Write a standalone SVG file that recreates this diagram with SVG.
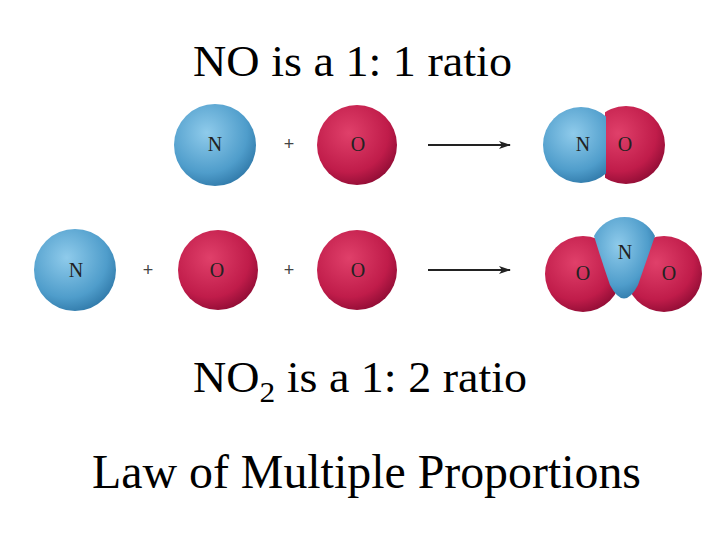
<svg xmlns="http://www.w3.org/2000/svg" width="720" height="540" viewBox="0 0 720 540">
<defs>
<radialGradient id="b" cx="0.4" cy="0.35" r="0.7"><stop offset="0" stop-color="#8fcbeb"/><stop offset="0.7" stop-color="#4f9dcb"/><stop offset="1" stop-color="#2f78a8"/></radialGradient>
<radialGradient id="r" cx="0.4" cy="0.35" r="0.7"><stop offset="0" stop-color="#e0406a"/><stop offset="0.7" stop-color="#c01c4a"/><stop offset="1" stop-color="#8e0c34"/></radialGradient>
<marker id="a" markerWidth="12" markerHeight="8" refX="11" refY="4" orient="auto" markerUnits="userSpaceOnUse"><path d="M0,0 L12,4 L0,8 L3,4 Z" fill="#222"/></marker>
<clipPath id="cL"><rect x="530" y="90" width="76" height="120"/></clipPath>
<clipPath id="cR"><rect x="605" y="90" width="80" height="120"/></clipPath>
</defs>
<style>
.t{font-family:"Liberation Serif",serif;fill:#000}
.l{font-family:"Liberation Serif",serif;font-size:20px;fill:#222;text-anchor:middle}
.p{font-family:"Liberation Sans",sans-serif;font-size:18px;fill:#444;text-anchor:middle}
.ar{stroke:#222;stroke-width:2;fill:none}
</style>
<rect width="720" height="540" fill="#fff"/>
<text class="t" x="193" y="76" font-size="44" textLength="319" lengthAdjust="spacingAndGlyphs">NO is a 1: 1 ratio</text>
<g id="row1">
<circle cx="215" cy="145" r="41" fill="url(#b)"/><text class="l" x="215" y="151">N</text>
<text class="p" x="289" y="150">+</text>
<circle cx="357" cy="145" r="40" fill="url(#r)"/><text class="l" x="358" y="151">O</text>
<line class="ar" x1="428" y1="145" x2="510" y2="145" marker-end="url(#a)"/>
<circle cx="626" cy="145" r="39" fill="url(#r)" clip-path="url(#cR)"/>
<circle cx="581" cy="145" r="38" fill="url(#b)" clip-path="url(#cL)"/>
<text class="l" x="583" y="151">N</text><text class="l" x="625" y="151">O</text>
</g>
<g id="row2">
<circle cx="75" cy="270" r="41" fill="url(#b)"/><text class="l" x="76" y="277">N</text>
<text class="p" x="148" y="276">+</text>
<circle cx="218" cy="270" r="40" fill="url(#r)"/><text class="l" x="217" y="277">O</text>
<text class="p" x="289" y="276">+</text>
<circle cx="357" cy="270" r="40" fill="url(#r)"/><text class="l" x="358" y="277">O</text>
<line class="ar" x1="428" y1="270" x2="510" y2="270" marker-end="url(#a)"/>
<circle cx="583" cy="274" r="38" fill="url(#r)"/>
<circle cx="664" cy="274" r="38" fill="url(#r)"/>
<path d="M594,236 A34,34 0 0 1 655,236 Q646,262 638,285 Q624,312 610,285 Q602,262 594,236 Z" fill="url(#b)"/>
<text class="l" x="625" y="259">N</text><text class="l" x="583" y="280">O</text><text class="l" x="669" y="280">O</text>
</g>
<text class="t" x="193" y="392" font-size="44" textLength="334" lengthAdjust="spacingAndGlyphs">NO<tspan font-size="30" dy="10">2</tspan><tspan dy="-10"> is a 1: 2 ratio</tspan></text>
<text class="t" x="92" y="488" font-size="48" textLength="549" lengthAdjust="spacingAndGlyphs">Law of Multiple Proportions</text>
</svg>
